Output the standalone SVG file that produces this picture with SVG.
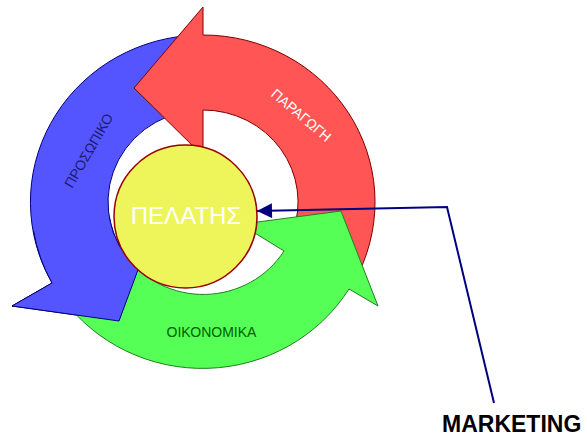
<svg xmlns="http://www.w3.org/2000/svg" width="587" height="438" viewBox="0 0 587 438">
<style>
.red{fill:#ff5555;stroke:#800000;stroke-width:1}
.blue{fill:#5555ff;stroke:#000080;stroke-width:1}
.green{fill:#55ff55;stroke:#208020;stroke-width:1}
.lbl{font-family:"Liberation Sans",Arial,sans-serif;font-size:14px;text-anchor:middle}
.conn{fill:none;stroke:#000080;stroke-width:2}
</style>
<defs>
<marker id="ah" viewBox="0 0 16 16" refX="16" refY="8" markerWidth="16" markerHeight="15" markerUnits="userSpaceOnUse" orient="auto">
<path d="M0,0 L16,8 L0,16 Z" fill="#000080"/>
</marker>
</defs>
<rect width="587" height="438" fill="#ffffff"/>
<g id="prosopiko">
<path class="blue" d="M188,35.6 A172,167 0 0 0 52,283 L12,306 L119,321 L138.2,269.3 A95,92 0 0 1 194.7,110.4 Z"/>
</g>
<g id="paragogi">
<path class="red" d="M203,35 A172,167 0 0 1 358.9,272.6 L292.3,233.5 A95,92 0 0 0 203,110 L203,152 L199,152 L134,88 L203,7 Z"/>
<text class="lbl" fill="#ffffff" transform="translate(298,119) rotate(40)">ΠΑΡΑΓΩΓΗ</text>
</g>
<g id="oikonomika">
<path class="green" d="M62.1,297.8 A172,167 0 0 0 349,289 L378,306 L341,211 L250,223 L250,230 L284,251 A95,92 0 0 1 125.2,254.8 Z"/>
<text class="lbl" fill="#006000" x="211.5" y="337">ΟΙΚΟΝΟΜΙΚΑ</text>
</g>
<g id="prosopiko-head">
<path class="blue" d="M33.6,231 A172,167 0 0 0 52,283 L12,306 L119,321 L138.2,269.3 A95,92 0 0 1 109.4,218"/>
<text class="lbl" fill="#1a1a70" transform="translate(93,153) rotate(-60)">ΠΡΟΣΩΠΙΚΟ</text>
</g>
<g id="pelatis">
<circle cx="185.5" cy="216.5" r="71.5" fill="#eef55a" stroke="#990000" stroke-width="1.5"/>
<text x="186" y="224" fill="#ffffff" font-family="'Liberation Sans',Arial,sans-serif" font-size="24" text-anchor="middle">ΠΕΛΑΤΗΣ</text>
</g>
<g id="connectors">
<polyline class="conn" points="494,403 447,207 257,211" marker-end="url(#ah)"/>
</g>
<g id="marketing">
<text x="442" y="432" font-family="'Liberation Sans',Arial,sans-serif" font-size="23" font-weight="bold" fill="#000000">MARKETING</text>
</g>
</svg>
